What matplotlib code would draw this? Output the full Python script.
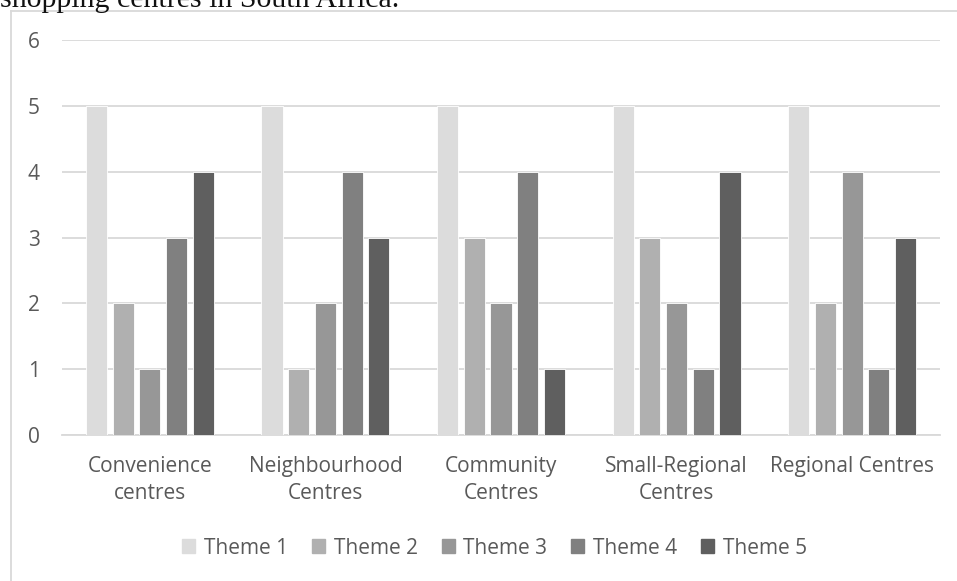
import matplotlib
matplotlib.use("Agg")
import matplotlib.pyplot as plt
import numpy as np
from matplotlib.lines import Line2D

categories = ["Convenience\ncentres", "Neighbourhood\nCentres", "Community\nCentres",
              "Small-Regional\nCentres", "Regional Centres"]
series_names = ["Theme 1", "Theme 2", "Theme 3", "Theme 4", "Theme 5"]
theme1 = [5, 5, 5, 5, 5]
theme2 = [2, 1, 3, 3, 2]
theme3 = [1, 2, 2, 2, 4]
theme4 = [3, 4, 4, 1, 1]
theme5 = [4, 3, 1, 4, 3]
yticks = [0, 1, 2, 3, 4, 5, 6]

series = [theme1, theme2, theme3, theme4, theme5]
colors = ["#DCDCDC", "#B0B0B0", "#979797", "#808080", "#5F5F5F"]

plt.rcParams['font.family'] = ['Open Sans', 'DejaVu Sans']
W, H = 957, 581
fig = plt.figure(figsize=(W / 100, H / 100), dpi=100)
ax = fig.add_axes([62 / W, 1 - 435 / H, (940 - 62) / W, (435 - 40) / H])

x = np.arange(len(categories))
pitch = 0.152
width = 0.12
for i, (vals, c, name) in enumerate(zip(series, colors, series_names)):
    ax.bar(x + (i - 2) * pitch, vals, width, color=c, label=name,
           edgecolor="white", linewidth=0.6, zorder=3)

ax.set_xlim(-0.5, len(categories) - 0.5)
ax.set_ylim(0, 6)
ax.set_yticks(yticks)
ax.set_yticklabels([str(v) for v in yticks])
ax.set_xticks(x)
ax.set_xticklabels(categories, linespacing=1.38)
ax.grid(axis="y", color="#D9D9D9", linewidth=1.3, zorder=0)
for s in ["top", "right", "left"]:
    ax.spines[s].set_visible(False)
ax.spines["bottom"].set_color("#D9D9D9")
ax.spines["bottom"].set_linewidth(1.3)
ax.tick_params(axis="both", length=0, colors="#595959", labelsize=15)
ax.tick_params(axis="y", pad=16)
ax.tick_params(axis="x", pad=15)

handles = [plt.Rectangle((0, 0), 1, 1, color=c) for c in colors]
fig.legend(handles, series_names, loc="center", bbox_to_anchor=(494.5 / W, 1 - 548 / H),
           ncol=5, frameon=False, fontsize=15, handlelength=0.62, handleheight=0.62,
           handletextpad=0.42, columnspacing=1.15, labelcolor="#595959")

# outer chart frame (partially visible)
fig.add_artist(Line2D([11 / W, 11 / W], [0, 1 - 11 / H], color="#D9D9D9", linewidth=1.3,
                      transform=fig.transFigure))
fig.add_artist(Line2D([11 / W, 1], [1 - 11 / H, 1 - 11 / H], color="#D9D9D9", linewidth=1.3,
                      transform=fig.transFigure))

# clipped caption text at top (cut off in the reference as well)
fig.text(0.0, 1 - 7 / H, "shopping centres in South Africa.", family="Liberation Serif",
         fontsize=21.5, color="#111111", ha="left", va="baseline")

fig.savefig("out.png", dpi=100)
